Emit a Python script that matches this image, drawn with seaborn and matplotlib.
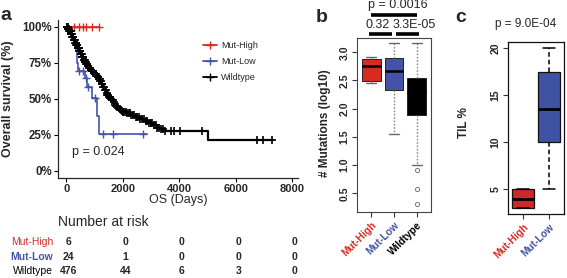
import numpy as np
import pandas as pd
import matplotlib
matplotlib.use("Agg")
import matplotlib.pyplot as plt
import matplotlib.transforms as mtransforms
from matplotlib.lines import Line2D
import seaborn as sns

# ---------------- data ----------------
groups = ["Mut-High", "Mut-Low", "Wildtype"]
colors = ["#D92A22", "#4453A8", "#000000"]

# Kaplan-Meier step curves (time in days, survival fraction)
mh_time = [0, 1150]
mh_surv = [1.0, 1.0]
mh_cens = [265, 450, 600, 680, 920, 1150]

ml_time = [0, 60, 180, 300, 330, 360, 390, 420, 650, 740, 890, 1090, 1150, 2840]
ml_surv = [1.0, 0.958, 0.917, 0.875, 0.833, 0.792, 0.75, 0.69, 0.645, 0.583, 0.507, 0.38, 0.255, 0.255]
ml_cens = [442, 573, 690, 772, 998, 1304, 1658, 2720]

wt_time = [0, 50, 100, 150, 200, 250, 300, 350, 400, 450, 500, 550, 600, 650, 700, 750,
           800, 850, 900, 950, 1000, 1050, 1100, 1150, 1200, 1250, 1300, 1350, 1400, 1450,
           1500, 1550, 1600, 1650, 1700, 1750, 1800, 1850, 1900, 1950, 2000, 2150, 2300,
           2450, 2600, 2750, 2900, 3050, 3200, 3300, 3430, 5020, 7330]
wt_surv = [1.0, 0.985, 0.97, 0.95, 0.93, 0.91, 0.89, 0.87, 0.85, 0.83, 0.81, 0.79, 0.77, 0.755,
           0.74, 0.725, 0.71, 0.70, 0.69, 0.68, 0.67, 0.66, 0.65, 0.635, 0.62, 0.60, 0.58,
           0.56, 0.54, 0.525, 0.51, 0.50, 0.49, 0.475, 0.46, 0.45, 0.44, 0.43, 0.42, 0.415,
           0.41, 0.40, 0.39, 0.375, 0.36, 0.345, 0.33, 0.315, 0.30, 0.29, 0.276, 0.213, 0.213]
wt_cens = [10, 25, 40, 55, 70, 85, 100, 115, 130, 145, 160, 175, 190, 205, 220, 235, 250,
           265, 280, 295, 310, 325, 340, 355, 370, 385, 400, 415, 430, 445, 460, 475, 490,
           505, 520, 535, 550, 565, 580, 595, 610, 625, 640, 655, 670, 685, 700, 720, 740,
           760, 780, 800, 820, 840, 860, 880, 900, 920, 940, 960, 980, 1000, 1020, 1040,
           1060, 1080, 1100, 1125, 1150, 1175, 1200, 1225, 1250, 1275, 1300, 1330, 1360,
           1390, 1420, 1450, 1480, 1510, 1540, 1570, 1600, 1640, 1680, 1720, 1760, 1800,
           1840, 1880, 1920, 1960, 2000, 2050, 2100, 2150, 2200, 2250, 2300, 2350, 2400,
           2450, 2500, 2560, 2620, 2680, 2740, 2800, 2860, 2920, 2980, 3040, 3100, 3160,
           3220, 3290, 3360, 3420, 3480, 3700, 3800, 4020, 4790, 6735, 6970, 7266]

risk_times = [0, 2000, 4000, 6000, 8000]
risk_mh = [6, 0, 0, 0, 0]
risk_ml = [24, 1, 0, 0, 0]
risk_wt = [476, 44, 6, 3, 0]

km_xticks = [0, 2000, 4000, 6000, 8000]
km_yticks = [0, 0.25, 0.5, 0.75, 1.0]
km_yticklabels = ["0%", "25%", "50%", "75%", "100%"]
km_pvalue = "p = 0.024"

# Panel b: # mutations (log10) box stats
b_groups = ["Mut-High", "Mut-Low", "Wildtype"]
b_whislo = [2.45, 1.56, 1.00]
b_q1 = [2.49, 2.33, 1.89]
b_med = [2.76, 2.66, 2.30]
b_q3 = [2.89, 2.90, 2.54]
b_whishi = [2.92, 3.16, 3.16]
b_fliers = [[], [], [0.91, 0.58, 0.31]]
b_yticks = [0.5, 1.0, 1.5, 2.0, 2.5, 3.0]
b_p_12 = "0.32"
b_p_23 = "3.3E-05"
b_p_13 = "p = 0.0016"

# Panel c: TIL % box stats
c_groups = ["Mut-High", "Mut-Low"]
c_whislo = [3.0, 5.0]
c_q1 = [3.0, 10.0]
c_med = [3.95, 13.5]
c_q3 = [5.0, 17.5]
c_whishi = [5.0, 20.0]
c_yticks = [5, 10, 15, 20]
c_p = "p = 9.0E-04"

# ---------------- style ----------------
sns.set_style("ticks")
plt.rcParams["font.family"] = ["Liberation Sans", "DejaVu Sans"]
plt.rcParams["axes.linewidth"] = 0.9

W, H = 567, 278
fig = plt.figure(figsize=(W / 100, H / 100), dpi=100)


def rect(l, t, r, b):
    return [l / W, 1 - b / H, (r - l) / W, (b - t) / H]


def fx(px):
    return px / W


def fy(py):
    return 1 - py / H


# ---------------- panel a: KM ----------------
axa = fig.add_axes(rect(58, 19.5, 298, 178))
curves = [(mh_time, mh_surv, mh_cens), (ml_time, ml_surv, ml_cens), (wt_time, wt_surv, wt_cens)]
for (t, s, cens), col, name in zip(curves, colors, groups):
    df = pd.DataFrame({"time": t, "surv": s})
    sns.lineplot(data=df, x="time", y="surv", drawstyle="steps-post", color=col,
                 lw=1.6 if name == "Wildtype" else 1.2, estimator=None, sort=False, ax=axa)
    t_arr = np.asarray(t)
    s_arr = np.asarray(s)
    idx = np.searchsorted(t_arr, cens, side="right") - 1
    cdf = pd.DataFrame({"time": cens, "surv": s_arr[idx]})
    sns.scatterplot(data=cdf, x="time", y="surv", marker="+", color=col,
                    s=34 if name == "Wildtype" else 28,
                    linewidth=1.2 if name == "Wildtype" else 1.0, ax=axa, zorder=3)

axa.set_xlim(-300, 8200)
axa.set_ylim(-0.05, 1.05)
axa.set_xticks(km_xticks)
axa.set_xticklabels([str(v) for v in km_xticks], fontsize=8, fontweight="bold")
axa.set_yticks(km_yticks)
axa.set_yticklabels(km_yticklabels, fontsize=8.3, fontweight="bold")
axa.tick_params(length=3, width=0.8, pad=1.5, color="black")
axa.set_xlabel("")
axa.set_ylabel("")
sns.despine(ax=axa)
axa.text(0.06, 0.165, km_pvalue, transform=axa.transAxes, fontsize=9, ha="left", va="center")

handles = [Line2D([], [], color=c, marker="+", markersize=6, lw=1.3, mew=1.0) for c in colors]
axa.legend(handles, groups, loc="upper left", bbox_to_anchor=(0.585, 0.89), frameon=False,
           fontsize=6.5, handlelength=1.6, labelspacing=0.75, handletextpad=0.4, borderpad=0)

fig.text(fx(8), fy(99), "Overall survival (%)", rotation=90, ha="center", va="center",
         fontsize=9, fontweight="bold")
fig.text(fx(178), fy(200), "OS (Days)", ha="center", va="center", fontsize=9)
fig.text(fx(0), fy(16), "a", ha="left", va="center", fontsize=14, fontweight="bold")

# risk table
fig.text(fx(58), fy(222), "Number at risk", ha="left", va="center", fontsize=10)
blend = mtransforms.blended_transform_factory(axa.transData, fig.transFigure)
row_y = [242, 257, 271]
for name, col, counts, yy in zip(groups, colors, [risk_mh, risk_ml, risk_wt], row_y):
    fig.text(fx(53), fy(yy), name, ha="right", va="center", fontsize=7.5, color=col,
             fontweight="bold" if name == "Mut-Low" else "normal")
    for tt, cnt in zip(risk_times, counts):
        axa.text(tt + 80, fy(yy), str(cnt), transform=blend, ha="center", va="center",
                 fontsize=7.5, fontweight="bold", clip_on=False)

# ---------------- panel b ----------------
axb = fig.add_axes(rect(357, 37.7, 431, 212))
stats_b = []
for i in range(3):
    stats_b.append(dict(whislo=b_whislo[i], q1=b_q1[i], med=b_med[i], q3=b_q3[i],
                        whishi=b_whishi[i], fliers=b_fliers[i], label=b_groups[i]))
bp = axb.bxp(stats_b, positions=[1, 2, 3], widths=0.83, patch_artist=True, capwidths=0.42,
             boxprops=dict(edgecolor="#222222", linewidth=0.7),
             whiskerprops=dict(color="#888888", linestyle=(0, (1.2, 1.2)), linewidth=1.0),
             capprops=dict(color="#666666", linewidth=1.0),
             medianprops=dict(color="black", linewidth=1.8),
             flierprops=dict(marker="o", markerfacecolor="none", markeredgecolor="#777777",
                             markersize=3, markeredgewidth=0.7))
for patch, col in zip(bp["boxes"], colors):
    patch.set_facecolor(col)
axb.set_xlim(0.38, 3.62)
axb.set_ylim(0.168, 3.259)
axb.set_yticks(b_yticks)
axb.set_yticklabels([f"{v:.1f}" for v in b_yticks], fontsize=7.5, fontweight="bold",
                    rotation=90, va="center")
axb.set_xticks([1, 2, 3])
axb.set_xticklabels(b_groups, fontsize=7.3, fontweight="bold", rotation=45, ha="right",
                    rotation_mode="anchor")
for lab, col in zip(axb.get_xticklabels(), colors):
    lab.set_color(col)
axb.tick_params(length=3.5, width=0.8, pad=2, color="#333333")
for sp in axb.spines.values():
    sp.set_visible(True)
    sp.set_color("#444444")
    sp.set_linewidth(0.8)

for (x0, x1, yv) in [(0.92, 1.92, 3.33), (2.1, 3.1, 3.33), (1.0, 3.0, 3.67)]:
    axb.plot([x0, x1], [yv, yv], color="black", lw=2.6, clip_on=False, solid_capstyle="butt")
axb.text(1.3, 3.49, b_p_12, ha="center", va="center", fontsize=9, clip_on=False)
axb.text(2.88, 3.49, b_p_23, ha="center", va="center", fontsize=9, clip_on=False)
axb.text(2.18, 3.845, b_p_13, ha="center", va="center", fontsize=9, clip_on=False)

fig.text(fx(325), fy(123), "# Mutations (log10)", rotation=90, ha="center", va="center",
         fontsize=8.5, fontweight="bold")
fig.text(fx(322), fy(17), "b", ha="center", va="center", fontsize=14, fontweight="bold")

# ---------------- panel c ----------------
axc = fig.add_axes(rect(508, 42, 564, 214))
stats_c = []
for i in range(2):
    stats_c.append(dict(whislo=c_whislo[i], q1=c_q1[i], med=c_med[i], q3=c_q3[i],
                        whishi=c_whishi[i], fliers=[], label=c_groups[i]))
bpc = axc.bxp(stats_c, positions=[1, 2], widths=0.87, patch_artist=True, capwidths=0.44,
              boxprops=dict(edgecolor="#111111", linewidth=0.9),
              whiskerprops=dict(color="black", linestyle=(0, (3, 2)), linewidth=1.1),
              capprops=dict(color="black", linewidth=1.1),
              medianprops=dict(color="black", linewidth=2.0))
for patch, col in zip(bpc["boxes"], ["#CC2A2A", "#3F52A3"]):
    patch.set_facecolor(col)
axc.set_xlim(0.42, 2.58)
axc.set_ylim(2.32, 20.68)
axc.set_yticks(c_yticks)
axc.set_yticklabels([str(v) for v in c_yticks], fontsize=7.5, fontweight="bold",
                    rotation=90, va="center")
axc.set_xticks([1, 2])
axc.set_xticklabels(c_groups, fontsize=7.3, fontweight="bold", rotation=45, ha="right",
                    rotation_mode="anchor")
for lab, col in zip(axc.get_xticklabels(), colors[:2]):
    lab.set_color(col)
axc.tick_params(length=3.5, width=0.8, pad=2, color="#333333")
for sp in axc.spines.values():
    sp.set_visible(True)
    sp.set_color("#111111")
    sp.set_linewidth(0.9)

fig.text(fx(525.6), fy(24), c_p, ha="center", va="center", fontsize=8.5)
fig.text(fx(464), fy(123), "TIL %", rotation=90, ha="center", va="center",
         fontsize=8.5, fontweight="bold")
fig.text(fx(461), fy(18), "c", ha="center", va="center", fontsize=14, fontweight="bold")

fig.savefig("out.png", dpi=100)
